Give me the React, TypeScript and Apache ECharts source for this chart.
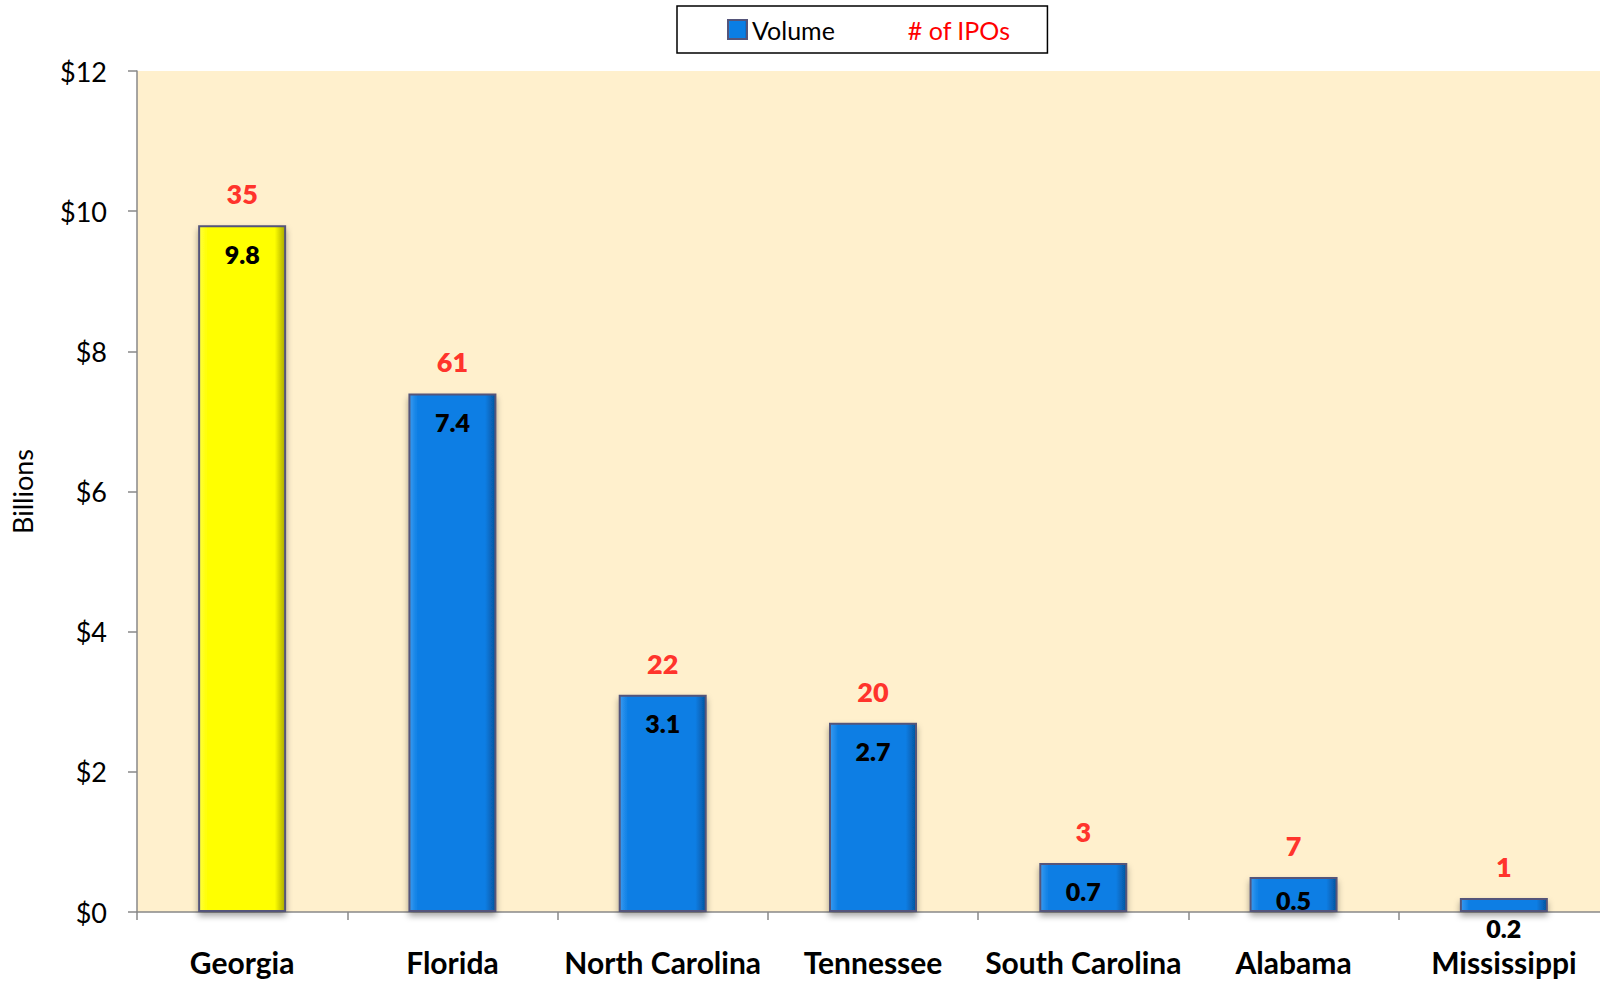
import React, { useEffect, useRef } from "react";
import * as echarts from "echarts";

const states = ["Georgia", "Florida", "North Carolina", "Tennessee", "South Carolina", "Alabama", "Mississippi"];
const volume = [9.8, 7.4, 3.1, 2.7, 0.7, 0.5, 0.2];
const ipoCount = [35, 61, 22, 20, 3, 7, 1];
const yTicks = { min: 0, max: 12, interval: 2 };

const FONT = "Lato, 'Open Sans', sans-serif";

const blueFill = new echarts.graphic.LinearGradient(0, 0, 1, 0, [
  { offset: 0, color: "#3a9af0" },
  { offset: 0.1, color: "#0a7ee4" },
  { offset: 0.88, color: "#0a7ee4" },
  { offset: 1, color: "#05549e" },
]);
const yellowFill = new echarts.graphic.LinearGradient(0, 0, 1, 0, [
  { offset: 0, color: "#ffff40" },
  { offset: 0.1, color: "#ffff00" },
  { offset: 0.88, color: "#ffff00" },
  { offset: 1, color: "#a8a800" },
]);

export default function App() {
  const ref = useRef<HTMLDivElement>(null);
  useEffect(() => {
    document.body.style.margin = "0";
    if (!ref.current) return;
    const chart = echarts.init(ref.current, undefined, { renderer: "svg" });
    const barData = volume.map((v, i) => {
      const item: any = { value: v };
      if (i === 0) item.itemStyle = { color: yellowFill };
      if (v < 0.4) item.label = { position: "bottom", distance: 3 };
      else if (v < 0.6) item.label = { distance: 11 };
      return item;
    });
    chart.setOption({
      animation: false,
      textStyle: { fontFamily: FONT },
      legend: {
        left: 677,
        top: 6,
        padding: [11, 37, 11, 50],
        borderColor: "#000",
        borderWidth: 1.5,
        itemWidth: 19,
        itemHeight: 19,
        itemGap: 49,
        selectedMode: false,
        textStyle: { fontSize: 25, color: "#000", fontFamily: FONT },
        data: [
          { name: "Volume", icon: "rect" },
          { name: "# of IPOs", icon: "none", textStyle: { color: "#ff0000" } },
        ],
      },
      grid: {
        left: 137,
        top: 71,
        width: 1472,
        bottom: 72,
        outerBoundsMode: "none",
        containLabel: false,
        show: true,
        backgroundColor: "#fff0cd",
        borderWidth: 0,
      },
      xAxis: {
        type: "category",
        data: states,
        axisLine: { lineStyle: { color: "#888", width: 1.5 } },
        axisTick: { show: true, length: 8, lineStyle: { color: "#888", width: 1.5 } },
        axisLabel: { fontSize: 30, fontWeight: "bold", color: "#000", margin: 35, fontFamily: FONT, interval: 0 },
      },
      yAxis: {
        type: "value",
        min: yTicks.min,
        max: yTicks.max,
        interval: yTicks.interval,
        name: "Billions",
        nameLocation: "middle",
        nameGap: 101,
        nameRotate: 90,
        nameTextStyle: { fontSize: 27, color: "#000", fontFamily: FONT },
        axisLine: { show: true, lineStyle: { color: "#888", width: 1.5 } },
        axisTick: { show: true, length: 9, lineStyle: { color: "#888", width: 1.5 } },
        splitLine: { show: false },
        axisLabel: { fontSize: 27, color: "#000", margin: 30, formatter: (v: number) => "$" + v, fontFamily: FONT },
      },
      series: [
        {
          name: "Volume",
          type: "bar",
          data: barData,
          barWidth: 88,
          itemStyle: {
            color: blueFill,
            borderColor: "#55557a",
            borderWidth: 2,
            shadowColor: "rgba(0,0,0,0.35)",
            shadowBlur: 6,
            shadowOffsetY: 4,
          },
          label: {
            show: true,
            position: "insideTop",
            distance: 16,
            fontSize: 25,
            fontWeight: 800,
            color: "#000",
            fontFamily: FONT,
          },
        },
        {
          name: "# of IPOs",
          type: "scatter",
          data: volume.map((v, i) => ({ value: v, ipo: ipoCount[i] })),
          symbolSize: 0,
          itemStyle: { color: "#ff0000" },
          z: 5,
          label: {
            show: true,
            position: "top",
            distance: 18,
            fontSize: 27,
            fontWeight: 800,
            color: "#ff0000",
            fontFamily: FONT,
            formatter: (p: any) => String(ipoCount[p.dataIndex]),
          },
        },
      ],
    });
    return () => chart.dispose();
  }, []);
  return <div ref={ref} style={{ width: 1600, height: 984 }} />;
}
